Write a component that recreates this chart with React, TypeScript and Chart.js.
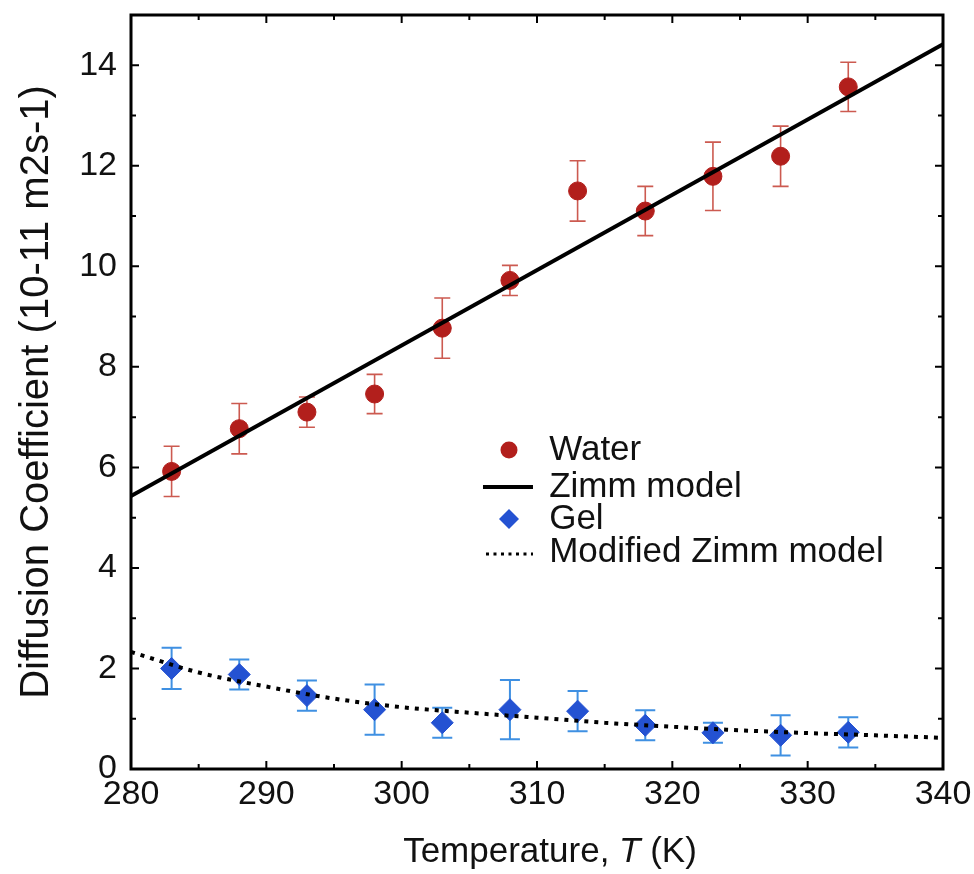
import React, { useEffect, useRef } from 'react';
import { Chart, registerables } from 'chart.js';

Chart.register(...registerables);

// ---- data ----
const temps = [283, 288, 293, 298, 303, 308, 313, 318, 323, 328, 333];
const waterD = [5.92, 6.77, 7.1, 7.46, 8.77, 9.72, 11.5, 11.1, 11.79, 12.19, 13.57];
const waterErr = [0.5, 0.5, 0.3, 0.39, 0.6, 0.3, 0.6, 0.49, 0.68, 0.6, 0.49];
const gelD = [2.0, 1.88, 1.46, 1.18, 0.92, 1.18, 1.15, 0.87, 0.72, 0.67, 0.73];
const gelErr = [0.41, 0.3, 0.3, 0.5, 0.3, 0.59, 0.4, 0.3, 0.2, 0.4, 0.3];
const zimmT = [280, 340];
const zimmD = [5.43, 14.42];
const modT = [280, 285, 290, 295, 300, 305, 310, 315, 320, 325, 330, 335, 340];
const modD = [2.33, 1.92, 1.64, 1.4, 1.23, 1.12, 1.02, 0.92, 0.84, 0.77, 0.715, 0.67, 0.62];

const legendLabels = ['Water', 'Zimm model', 'Gel', 'Modified Zimm model'];
const yTitle = 'Diffusion Coefficient (10-11 m2s-1)';
const xTitleParts = ['Temperature, ', 'T', ' (K)'];

const RED = '#b21f1c';
const RED_ERR = '#cc5a50';
const BLUE = '#2452d2';
const BLUE_ERR = '#3f90e2';
const FONT = '"Liberation Sans", Arial, Helvetica, sans-serif';

const pts = (xs: number[], ys: number[]) => xs.map((x, i) => ({ x, y: ys[i] }));

const errorBarPlugin = {
  id: 'errorBars',
  beforeDatasetsDraw(chart: any) {
    const ctx = chart.ctx;
    const xs = chart.scales.x;
    const ys = chart.scales.y;
    const sets = [
      { d: waterD, e: waterErr, color: RED_ERR, w: 1.6, cap: 8 },
      { d: gelD, e: gelErr, color: BLUE_ERR, w: 2, cap: 10 },
    ];
    ctx.save();
    for (const s of sets) {
      ctx.strokeStyle = s.color;
      ctx.lineWidth = s.w;
      temps.forEach((t, i) => {
        const px = xs.getPixelForValue(t);
        const top = ys.getPixelForValue(s.d[i] + s.e[i]);
        const bot = ys.getPixelForValue(s.d[i] - s.e[i]);
        ctx.beginPath();
        ctx.moveTo(px, top);
        ctx.lineTo(px, bot);
        ctx.moveTo(px - s.cap, top);
        ctx.lineTo(px + s.cap, top);
        ctx.moveTo(px - s.cap, bot);
        ctx.lineTo(px + s.cap, bot);
        ctx.stroke();
      });
    }
    ctx.restore();
  },
};

const framePlugin = {
  id: 'frameAndText',
  afterDraw(chart: any) {
    const ctx = chart.ctx;
    const { left, right, top, bottom } = chart.chartArea;
    const xs = chart.scales.x;
    const ys = chart.scales.y;
    ctx.save();
    ctx.strokeStyle = '#000';
    ctx.lineWidth = 2;
    // ticks
    ctx.beginPath();
    xs.ticks.forEach((tk: any) => {
      const v = tk.value;
      const px = xs.getPixelForValue(v);
      const L = v % 10 === 0 ? 8 : 5;
      ctx.moveTo(px, bottom);
      ctx.lineTo(px, bottom - L);
      ctx.moveTo(px, top);
      ctx.lineTo(px, top + L);
    });
    ys.ticks.forEach((tk: any) => {
      const v = tk.value;
      const py = ys.getPixelForValue(v);
      const L = v % 2 === 0 ? 8 : 5;
      ctx.moveTo(left, py);
      ctx.lineTo(left + L, py);
      ctx.moveTo(right, py);
      ctx.lineTo(right - L, py);
    });
    ctx.stroke();
    // frame
    ctx.lineWidth = 3;
    ctx.strokeRect(left, top, right - left, bottom - top);

    // legend
    const w = right - left;
    const h = bottom - top;
    const lx = left + w * 0.4655;
    const tx = left + w * 0.515;
    const rows = [450, 487, 519, 552].map((y) => top + ((y - 15) / 754) * h);
    ctx.fillStyle = RED;
    ctx.beginPath();
    ctx.arc(lx, rows[0], 8.5, 0, Math.PI * 2);
    ctx.fill();
    ctx.strokeStyle = '#000';
    ctx.lineWidth = 4;
    ctx.beginPath();
    ctx.moveTo(lx - 26, rows[1]);
    ctx.lineTo(lx + 24, rows[1]);
    ctx.stroke();
    ctx.fillStyle = BLUE;
    ctx.beginPath();
    ctx.moveTo(lx, rows[2] - 10);
    ctx.lineTo(lx + 10, rows[2]);
    ctx.lineTo(lx, rows[2] + 10);
    ctx.lineTo(lx - 10, rows[2]);
    ctx.closePath();
    ctx.fill();
    ctx.lineWidth = 3;
    ctx.setLineDash([3, 4.5]);
    ctx.beginPath();
    ctx.moveTo(lx - 23, rows[3] + 2);
    ctx.lineTo(lx + 24, rows[3] + 2);
    ctx.stroke();
    ctx.setLineDash([]);
    ctx.fillStyle = '#111';
    ctx.font = `35px ${FONT}`;
    ctx.textAlign = 'left';
    ctx.textBaseline = 'middle';
    legendLabels.forEach((lab, i) => ctx.fillText(lab, tx, rows[i]));

    // y title
    ctx.save();
    ctx.translate(37, (top + bottom) / 2);
    ctx.rotate(-Math.PI / 2);
    ctx.font = `40px ${FONT}`;
    ctx.textAlign = 'center';
    ctx.textBaseline = 'middle';
    ctx.fillText(yTitle, 0, 0);
    ctx.restore();

    // x title with italic T
    const fonts = [`35px ${FONT}`, `italic 35px ${FONT}`, `35px ${FONT}`];
    let total = 0;
    const widths = xTitleParts.map((p, i) => {
      ctx.font = fonts[i];
      const m = ctx.measureText(p).width;
      total += m;
      return m;
    });
    let cx = left + w * 0.516 - total / 2;
    ctx.textAlign = 'left';
    ctx.textBaseline = 'alphabetic';
    xTitleParts.forEach((p, i) => {
      ctx.font = fonts[i];
      ctx.fillText(p, cx, 862);
      cx += widths[i];
    });
    ctx.restore();
  },
};

export default function App() {
  const ref = useRef<HTMLCanvasElement | null>(null);
  useEffect(() => {
    if (!ref.current) return;
    const chart = new Chart(ref.current, {
      type: 'scatter',
      data: {
        datasets: [
          {
            label: 'Zimm model',
            data: pts(zimmT, zimmD),
            showLine: true,
            borderColor: '#000',
            borderWidth: 4,
            pointRadius: 0,
            order: 1,
          },
          {
            label: 'Modified Zimm model',
            data: pts(modT, modD),
            showLine: true,
            borderColor: '#000',
            borderWidth: 4,
            borderDash: [4, 6],
            cubicInterpolationMode: 'monotone',
            pointRadius: 0,
            order: 1,
          },
          {
            label: 'Water',
            data: pts(temps, waterD),
            backgroundColor: RED,
            borderColor: RED,
            pointRadius: 9,
            pointStyle: 'circle',
            order: 2,
          },
          {
            label: 'Gel',
            data: pts(temps, gelD),
            backgroundColor: BLUE,
            borderColor: BLUE,
            pointRadius: 11,
            pointStyle: 'rectRot',
            order: 2,
          },
        ] as any,
      },
      options: {
        animation: false,
        responsive: false,
        layout: { padding: { top: 15, right: 31, left: 0, bottom: 0 } },
        plugins: { legend: { display: false }, tooltip: { enabled: false } },
        scales: {
          x: {
            type: 'linear',
            min: 280,
            max: 340,
            grid: { display: false, drawTicks: false },
            border: { display: false },
            ticks: {
              stepSize: 5,
              autoSkip: false,
              maxRotation: 0,
              padding: 5,
              color: '#111',
              font: { family: FONT, size: 34 },
              callback: (v: any) => (Number(v) % 10 === 0 ? String(v) : ''),
            },
            afterFit: (s: any) => {
              s.height = 105;
              s.paddingLeft = 0;
              s.paddingRight = 0;
            },
          },
          y: {
            type: 'linear',
            min: 0,
            max: 15,
            grid: { display: false, drawTicks: false },
            border: { display: false },
            ticks: {
              stepSize: 1,
              autoSkip: false,
              padding: 14,
              color: '#111',
              font: { family: FONT, size: 34 },
              callback: (v: any) => (Number(v) % 2 === 0 && Number(v) < 15 ? String(v) : ''),
            },
            afterFit: (s: any) => {
              s.width = 131;
              s.paddingTop = 0;
              s.paddingBottom = 0;
            },
          },
        },
      } as any,
      plugins: [errorBarPlugin, framePlugin],
    });
    return () => chart.destroy();
  }, []);
  return (
    <div style={{ position: 'absolute', left: 0, top: 0, width: 974, height: 874, background: '#fff' }}>
      <canvas ref={ref} width={974} height={874} style={{ display: 'block' }} />
    </div>
  );
}
